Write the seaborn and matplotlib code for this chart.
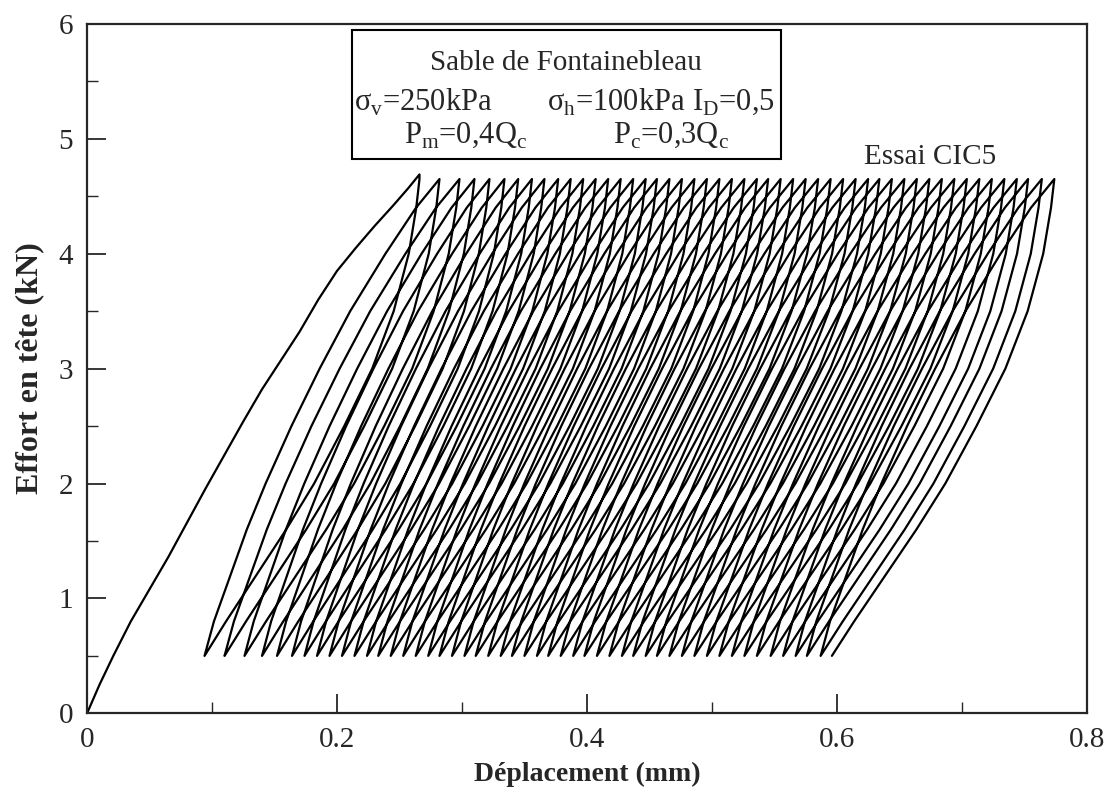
import numpy as np
import pandas as pd
import seaborn as sns
import matplotlib.pyplot as plt
from matplotlib.patches import Rectangle
from matplotlib.ticker import MultipleLocator

# first loading curve (mm, kN)
init_disp = [0.0, 0.010, 0.021, 0.035, 0.050, 0.065, 0.080, 0.095, 0.110, 0.125,
             0.140, 0.155, 0.170, 0.185, 0.200, 0.215, 0.230, 0.245, 0.257, 0.266]
init_load = [0.0, 0.25, 0.50, 0.80, 1.08, 1.36, 1.66, 1.96, 2.25, 2.54,
             2.82, 3.07, 3.32, 3.60, 3.85, 4.05, 4.24, 4.42, 4.57, 4.69]

# displacement at each cycle peak and valley (mm)
peak_disp = [0.266, 0.282, 0.298, 0.310, 0.322, 0.334, 0.345, 0.356, 0.366, 0.377,
             0.387, 0.397, 0.407, 0.417, 0.427, 0.437, 0.447, 0.456, 0.466, 0.476,
             0.486, 0.496, 0.506, 0.516, 0.526, 0.536, 0.545, 0.555, 0.565, 0.575,
             0.585, 0.595, 0.605, 0.615, 0.625, 0.634, 0.644, 0.654, 0.664, 0.674,
             0.684, 0.694, 0.704, 0.714, 0.724, 0.734, 0.744, 0.753, 0.764, 0.774]
valley_disp = [0.094, 0.110, 0.126, 0.140, 0.152, 0.164, 0.174, 0.184, 0.194, 0.204,
               0.214, 0.224, 0.233, 0.243, 0.253, 0.263, 0.273, 0.282, 0.292, 0.302,
               0.311, 0.321, 0.331, 0.340, 0.350, 0.360, 0.369, 0.379, 0.389, 0.398,
               0.408, 0.418, 0.428, 0.437, 0.447, 0.456, 0.466, 0.476, 0.486, 0.496,
               0.506, 0.516, 0.526, 0.536, 0.547, 0.557, 0.567, 0.576, 0.587, 0.596]

# shape of one unloading / reloading branch (load, fraction of the span)
unload_load = [4.65, 4.4, 4.0, 3.5, 3.0, 2.5, 2.0, 1.6, 1.2, 0.8, 0.5]
unload_frac = [0.0, 0.015, 0.05, 0.12, 0.22, 0.35, 0.49, 0.62, 0.76, 0.90, 1.0]
reload_load = [0.5, 0.8, 1.2, 1.6, 2.0, 2.5, 3.0, 3.5, 4.0, 4.4, 4.65]
reload_frac = [0.0, 0.04, 0.11, 0.18, 0.26, 0.37, 0.49, 0.62, 0.77, 0.90, 1.0]

# build the whole test record
xs = list(init_disp)
ys = list(init_load)
for i in range(len(peak_disp)):
    span = peak_disp[i] - valley_disp[i]
    xs += [peak_disp[i] - f * span for f in unload_frac]
    ys += unload_load
    if i < len(peak_disp) - 1:
        span = peak_disp[i + 1] - valley_disp[i]
        xs += [valley_disp[i] + f * span for f in reload_frac]
        ys += reload_load
df = pd.DataFrame({"disp": xs, "load": ys})

sns.set_style("ticks")
plt.rcParams["font.family"] = ["Liberation Serif", "DejaVu Serif"]
plt.rcParams["mathtext.fontset"] = "custom"
plt.rcParams["mathtext.rm"] = "Liberation Serif"

fig = plt.figure(figsize=(11.09, 7.97), dpi=100)
ax = fig.add_axes([0.0785, 0.105, 0.9015, 0.865])

sns.lineplot(data=df, x="disp", y="load", sort=False, estimator=None,
             color="black", lw=1.6, ax=ax)

ax.set_xlim(0, 0.8)
ax.set_ylim(0, 6)
ax.set_xticks([0, 0.2, 0.4, 0.6, 0.8], labels=["0", "0.2", "0.4", "0.6", "0.8"])
ax.set_yticks([0, 1, 2, 3, 4, 5, 6])
ax.xaxis.set_minor_locator(MultipleLocator(0.1))
ax.yaxis.set_minor_locator(MultipleLocator(0.5))
ax.tick_params(which="major", direction="in", length=14, width=1.3, labelsize=21, pad=10)
ax.tick_params(which="minor", direction="in", length=8, width=1.0)
for s in ax.spines.values():
    s.set_linewidth(1.6)

ax.set_xlabel("Déplacement (mm)", fontsize=20, fontweight="bold", labelpad=6)
ax.set_ylabel("Effort en tête (kN)", fontsize=23, fontweight="bold", labelpad=10)

# info box
ax.add_patch(Rectangle((0.212, 4.82), 0.343, 1.13, fill=False, lw=1.5,
                       edgecolor="black", zorder=3))
ax.text(0.383, 5.66, "Sable de Fontainebleau", fontsize=21, ha="center", va="center")
ax.text(0.214, 5.32, "σ$_{\\mathregular{v}}$=250kPa", fontsize=22, va="center")
ax.text(0.368, 5.32, "σ$_{\\mathregular{h}}$=100kPa", fontsize=22, va="center")
ax.text(0.484, 5.32, "I$_{\\mathregular{D}}$=0,5", fontsize=22, va="center")
ax.text(0.254, 5.03, "P$_{\\mathregular{m}}$=0,4Q$_{\\mathregular{c}}$", fontsize=22, va="center")
ax.text(0.421, 5.03, "P$_{\\mathregular{c}}$=0,3Q$_{\\mathregular{c}}$", fontsize=22, va="center")
ax.text(0.622, 4.84, "Essai CIC5", fontsize=21, va="center")

fig.savefig("out.png", dpi=100)
